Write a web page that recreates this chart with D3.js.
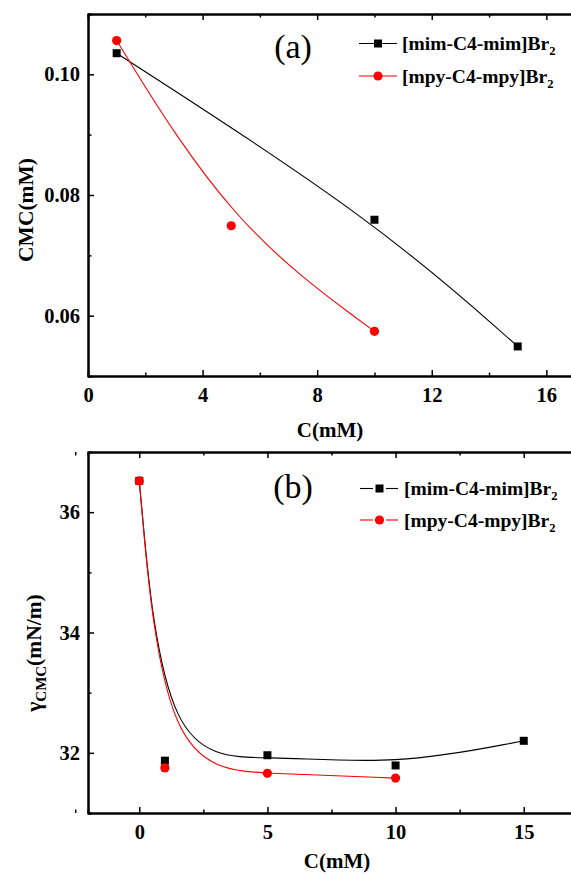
<!DOCTYPE html>
<html lang="en">
<head>
    <meta charset="UTF-8">
    <title>CMC and surface tension</title>
    <script src="https://d3js.org/d3.v7.min.js"></script>
    <style>
        body { margin: 0; background: #fff; }
        svg text { font-family: "Liberation Serif", "Times New Roman", serif; }
    </style>
</head>
<body>
<div id="chart"></div>
<script>

// ---- data ----
let seriesNames = ["[mim-C4-mim]Br", "[mpy-C4-mpy]Br"]
let seriesColors = ["#000000", "#ff0000"]

// panel (a): CMC vs C
let cmcMimX = [1, 10, 15]
let cmcMimY = [0.1035, 0.0759, 0.0549]
let cmcMpyX = [1, 5, 10]
let cmcMpyY = [0.1056, 0.0749, 0.0574]

// panel (b): gamma_CMC vs C
let gamMimX = [0, 1, 5, 10, 15]
let gamMimY = [36.52, 31.87, 31.96, 31.79, 32.2]
let gamMpyX = [0, 1, 5, 10]
let gamMpyY = [36.52, 31.75, 31.66, 31.58]

let ticksAX = [0, 4, 8, 12, 16]
let minorAX = [2, 6, 10, 14]
let ticksAY = [0.06, 0.08, 0.10]
let minorAY = [0.05, 0.07, 0.09, 0.11]
let ticksBX = [0, 5, 10, 15]
let minorBX = [-2.5, 2.5, 7.5, 12.5]
let ticksBY = [32, 34, 36]
let minorBY = [31, 33, 35, 37]

let width = 571
    height = 876

let svg = d3.select("#chart")
    .append("svg")
    .attr("width", width)
    .attr("height", height)

function drawPanel(opt) {
    let x = d3.scaleLinear().domain(opt.xDomain).range([88, 575])
    let y = d3.scaleLinear().domain(opt.yDomain).range([opt.bottom, opt.top])
    let g = svg.append("g")

    // minor ticks
    g.append("g").attr("transform", "translate(0," + opt.bottom + ")")
        .call(d3.axisBottom(x).tickValues(opt.minorX).tickSize(-3.5).tickFormat(""))
    g.append("g").attr("transform", "translate(0," + opt.top + ")")
        .call(d3.axisTop(x).tickValues(opt.minorX).tickSize(-3.5).tickFormat(""))
    g.append("g").attr("transform", "translate(88,0)")
        .call(d3.axisLeft(y).tickValues(opt.minorY).tickSize(-3.5).tickFormat(""))

    // major ticks
    g.append("g").attr("transform", "translate(0," + opt.top + ")")
        .call(d3.axisTop(x).tickValues(opt.ticksX).tickSize(-6).tickSizeOuter(0).tickFormat(""))
    g.append("g").attr("transform", "translate(0," + opt.bottom + ")")
        .call(d3.axisBottom(x).tickValues(opt.ticksX).tickSize(-6).tickSizeOuter(0).tickPadding(11).tickFormat(opt.fmtX))
    g.append("g").attr("transform", "translate(88,0)")
        .call(d3.axisLeft(y).tickValues(opt.ticksY).tickSize(-6).tickSizeOuter(0).tickPadding(8).tickFormat(opt.fmtY))

    g.selectAll(".domain").attr("stroke", "#000").attr("stroke-width", 2)
    g.selectAll(".tick line").attr("stroke", "#000").attr("stroke-width", 1.5)
    g.selectAll(".tick text")
        .attr("fill", "#000")
        .style("font-family", "'Liberation Serif', serif")
        .style("font-size", "20.5px")
        .style("font-weight", "bold")

    // B-spline connect lines
    let line = d3.line()
        .x(function(d) { return x(d[0]) })
        .y(function(d) { return y(d[1]) })
        .curve(d3.curveBasis)
    opt.series.forEach(function(s, i) {
        g.append("path")
            .datum(d3.zip(s.xs, s.ys))
            .attr("d", line)
            .attr("fill", "none")
            .attr("stroke", seriesColors[i])
            .attr("stroke-width", 1.1)
    })

    // markers
    let s0 = opt.series[0]
    g.selectAll("rect.m")
        .data(d3.zip(s0.xs, s0.ys))
        .enter()
        .append("rect")
        .attr("x", function(d) { return x(d[0]) - 4 })
        .attr("y", function(d) { return y(d[1]) - 4 })
        .attr("width", 8)
        .attr("height", 8)
        .attr("fill", seriesColors[0])
    let s1 = opt.series[1]
    g.selectAll("circle.m")
        .data(d3.zip(s1.xs, s1.ys))
        .enter()
        .append("circle")
        .attr("cx", function(d) { return x(d[0]) })
        .attr("cy", function(d) { return y(d[1]) })
        .attr("r", 4.6)
        .attr("fill", seriesColors[1])

    // panel letter
    g.append("text")
        .attr("x", 293).attr("y", opt.letterY)
        .attr("text-anchor", "middle")
        .style("font-size", "34px")
        .text(opt.letter)

    // legend
    seriesNames.forEach(function(name, i) {
        let ly = opt.legendY[i]
        if (opt.gapLegend) {
            g.append("line").attr("x1", 360).attr("x2", 373).attr("y1", ly).attr("y2", ly)
                .attr("stroke", seriesColors[i]).attr("stroke-width", 1.1)
            g.append("line").attr("x1", 386).attr("x2", 398).attr("y1", ly).attr("y2", ly)
                .attr("stroke", seriesColors[i]).attr("stroke-width", 1.1)
        } else {
            g.append("line").attr("x1", 359).attr("x2", 397).attr("y1", ly).attr("y2", ly)
                .attr("stroke", seriesColors[i]).attr("stroke-width", 1.1)
        }
        let mx = opt.gapLegend ? 379.5 : 378
        if (i == 0) {
            g.append("rect").attr("x", mx - 4).attr("y", ly - 4).attr("width", 8).attr("height", 8)
                .attr("fill", seriesColors[i])
        } else {
            g.append("circle").attr("cx", mx).attr("cy", ly).attr("r", 4.6).attr("fill", seriesColors[i])
        }
        let t = g.append("text")
            .attr("x", opt.gapLegend ? 404 : 402).attr("y", ly + 6.5)
            .style("font-size", "19.5px")
            .style("font-weight", "bold")
        t.append("tspan").text(name)
        t.append("tspan").attr("dy", 5).style("font-size", "12.5px").text("2")
    })

    // x axis title
    g.append("text")
        .attr("x", opt.xTitleX).attr("y", opt.xTitleY)
        .attr("text-anchor", "middle")
        .style("font-size", "21px")
        .style("font-weight", "bold")
        .text("C(mM)")
    return g
}

// panel (a)
let ga = drawPanel({
    xDomain: [0, 17], yDomain: [0.05, 0.11], top: 14, bottom: 376,
    ticksX: ticksAX, minorX: minorAX, ticksY: ticksAY, minorY: minorAY,
    fmtX: d3.format("d"), fmtY: d3.format(".2f"),
    series: [{xs: cmcMimX, ys: cmcMimY}, {xs: cmcMpyX, ys: cmcMpyY}],
    letter: "(a)", letterY: 58, legendY: [43.5, 76], gapLegend: false,
    xTitleX: 330, xTitleY: 437
})
ga.append("text")
    .attr("transform", "translate(33,210) rotate(-90)")
    .attr("text-anchor", "middle")
    .style("font-size", "21.5px")
    .style("font-weight", "bold")
    .text("CMC(mM)")

// panel (b)
let gb = drawPanel({
    xDomain: [-2, 17], yDomain: [31, 37], top: 452, bottom: 813,
    ticksX: ticksBX, minorX: minorBX, ticksY: ticksBY, minorY: minorBY,
    fmtX: d3.format("d"), fmtY: d3.format("d"),
    series: [{xs: gamMimX, ys: gamMimY}, {xs: gamMpyX, ys: gamMpyY}],
    letter: "(b)", letterY: 498, legendY: [488.5, 520], gapLegend: true,
    xTitleX: 337, xTitleY: 868
})
let yl = gb.append("text")
    .attr("transform", "translate(41,653) rotate(-90)")
    .attr("text-anchor", "middle")
    .style("font-size", "21.5px")
    .style("font-weight", "bold")
yl.append("tspan").text("γ")
yl.append("tspan").attr("dy", 5).style("font-size", "15px").text("CMC")
yl.append("tspan").attr("dy", -5).text("(mN/m)")

</script>
</body>
</html>
